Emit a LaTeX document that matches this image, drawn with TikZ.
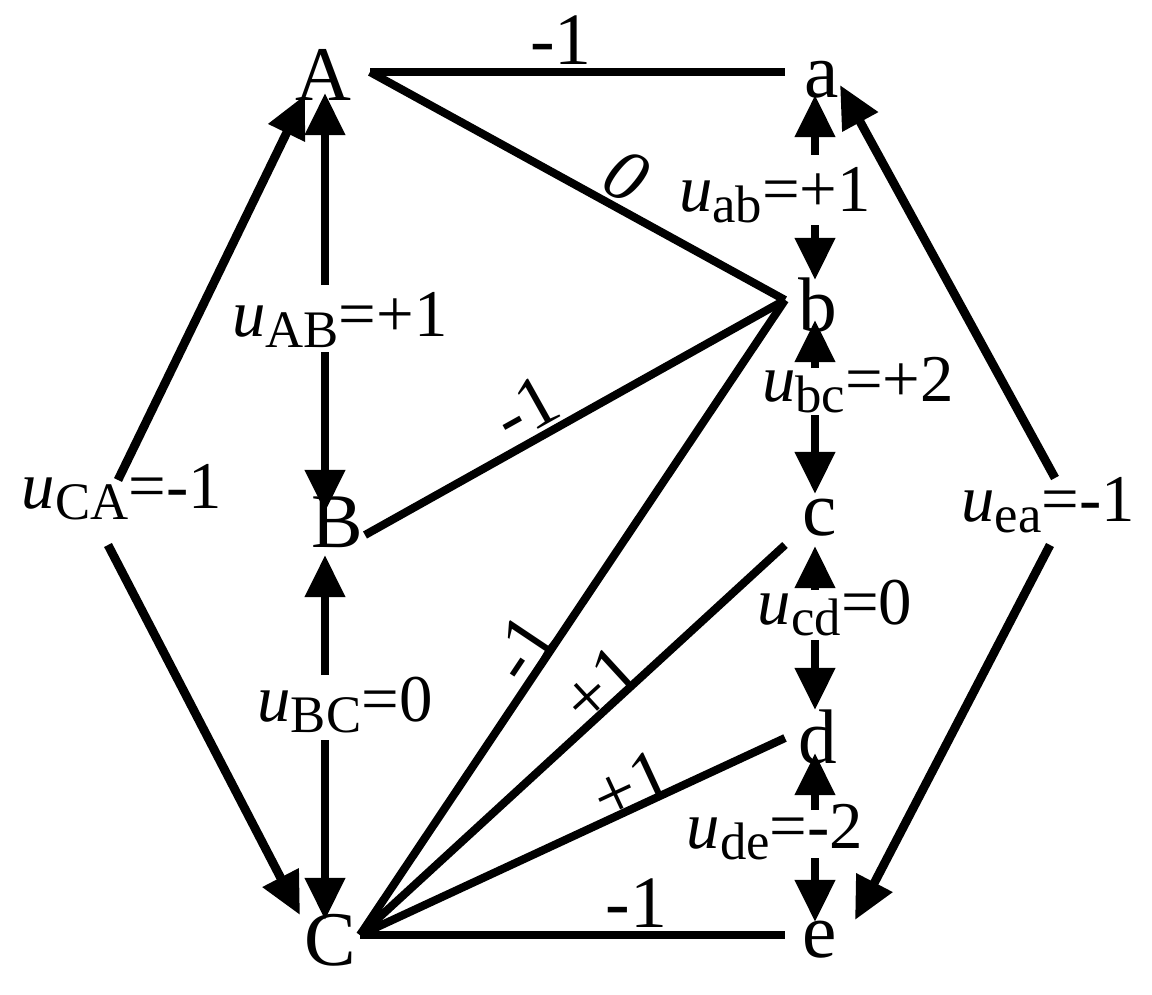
\documentclass[tikz,border=0pt]{standalone}
\usepackage{fontspec}
\setmainfont{Liberation Serif}
\usetikzlibrary{arrows.meta}
\begin{document}
\begin{tikzpicture}[x=0.01cm,y=-0.01cm,
  ln/.style={line width=2.3pt},
  ar/.style={line width=2.5pt,-{Stealth[length=12pt,width=11pt,inset=0pt]}},
  vx/.style={font=\fontsize{22}{24}\selectfont,inner sep=0pt},
  lb/.style={font=\fontsize{21}{23}\selectfont,inner sep=1pt,sloped,above},
  ul/.style={font=\fontsize{19}{21}\selectfont,inner sep=0pt}]
\useasboundingbox (0,0) rectangle (1152,994);
\newcommand{\uu}[2]{\textit{u}\raisebox{-0.35ex}{\fontsize{15}{17}\selectfont #1}=#2}
% vertices
\node[vx] (A) at (323,75) {A};
\node[vx] (B) at (337,522) {B};
\node[vx] (C) at (330,940) {C};
\node[vx] (a) at (822,80) {a};
\node[vx] (b) at (818,305) {b};
\node[vx] (c) at (820,518) {c};
\node[vx] (d) at (818,737) {d};
\node[vx] (e) at (820,940) {e};
\coordinate (pA) at (370,72);
\coordinate (pB) at (365,535);
\coordinate (pC) at (360,935);
\coordinate (pa) at (785,72);
\coordinate (pb) at (785,300);
\coordinate (pc) at (785,545);
\coordinate (pd) at (785,738);
\coordinate (pe) at (785,935);
% edges
\draw[ln] (pA) -- node[lb,pos=0.46] {-1} (pa);
\draw[ln] (pA) -- node[lb,pos=0.58] {\textit{0}} (pb);
\draw[ln] (pB) -- node[lb,pos=0.42] {-1} (pb);
\draw[ln] (pC) -- node[lb,pos=0.43,inner sep=-1pt] {-1} (pb);
\draw[ln] (pC) -- node[lb,pos=0.6,inner sep=-2pt] {+1} (pc);
\draw[ln] (pC) -- node[lb,pos=0.66,inner sep=-2pt] {+1} (pd);
\draw[ln] (pC) -- node[lb,pos=0.65] {-1} (pe);
% vertical voltage labels
\node[ul] (uAB) at (340,320) {\uu{AB}{+1}};
\node[ul] (uBC) at (345,705) {\uu{BC}{0}};
\node[ul] (uab) at (775,195) {\uu{ab}{+1}};
\node[ul] (ubc) at (858,385) {\uu{bc}{+2}};
\node[ul] (ucd) at (835,608) {\uu{cd}{0}};
\node[ul] (ude) at (775,832) {\uu{de}{-2}};
\node[ul] (uCA) at (122,492) {\uu{CA}{-1}};
\node[ul] (uea) at (1048,505) {\uu{ea}{-1}};
% arrows
\draw[ar] (325,285) -- (325,93);
\draw[ar] (325,352) -- (325,512);
\draw[ar] (325,675) -- (325,555);
\draw[ar] (325,740) -- (325,920);
\draw[ar] (815,155) -- (815,95);
\draw[ar] (815,225) -- (815,280);
\draw[ar] (815,368) -- (815,320);
\draw[ar] (815,415) -- (815,494);
\draw[ar] (815,590) -- (815,546);
\draw[ar] (815,640) -- (815,710);
\draw[ar] (815,810) -- (815,753);
\draw[ar] (815,858) -- (815,922);
\draw[ar] (118,480) -- (305,95);
\draw[ar] (108,545) -- (300,915);
\draw[ar] (1055,478) -- (840,85);
\draw[ar] (1050,545) -- (855,920);
\end{tikzpicture}
\end{document}
